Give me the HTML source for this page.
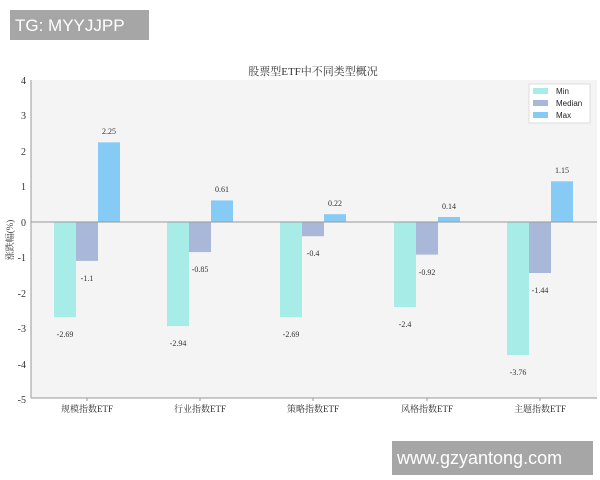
<!DOCTYPE html>
<html><head><meta charset="utf-8"><style>
body{margin:0;background:#fff;}
svg{display:block;}
</style></head><body>
<svg width="600" height="480" xmlns="http://www.w3.org/2000/svg" font-family="'Liberation Serif','Noto Serif CJK SC',serif">
<rect x="31" y="80" width="566" height="318" fill="#f4f4f4"/>
<text x="313" y="75" font-size="11" text-anchor="middle" fill="#333">股票型ETF中不同类型概况</text>
<g>
<rect x="54" y="222" width="22" height="95.2" fill="#a8ece8"/>
<rect x="76" y="222" width="22" height="38.9" fill="#a9b8d8"/>
<rect x="98" y="142.35" width="22" height="79.65" fill="#85cbf5"/>
<rect x="167" y="222" width="22" height="104.1" fill="#a8ece8"/>
<rect x="189" y="222" width="22" height="30.1" fill="#a9b8d8"/>
<rect x="211" y="200.4" width="22" height="21.6" fill="#85cbf5"/>
<rect x="280" y="222" width="22" height="95.2" fill="#a8ece8"/>
<rect x="302" y="222" width="22" height="14.2" fill="#a9b8d8"/>
<rect x="324" y="214.2" width="22" height="7.8" fill="#85cbf5"/>
<rect x="394" y="222" width="22" height="85" fill="#a8ece8"/>
<rect x="416" y="222" width="22" height="32.6" fill="#a9b8d8"/>
<rect x="438" y="217" width="22" height="5" fill="#85cbf5"/>
<rect x="507" y="222" width="22" height="133.1" fill="#a8ece8"/>
<rect x="529" y="222" width="22" height="51" fill="#a9b8d8"/>
<rect x="551" y="181.3" width="22" height="40.7" fill="#85cbf5"/>
</g>
<g font-size="8" fill="#333" text-anchor="middle">
<text x="65" y="337">-2.69</text><text x="87" y="281">-1.1</text><text x="109" y="134">2.25</text>
<text x="178" y="346">-2.94</text><text x="200" y="272">-0.85</text><text x="222" y="192">0.61</text>
<text x="291" y="337">-2.69</text><text x="313" y="256">-0.4</text><text x="335" y="206">0.22</text>
<text x="405" y="327">-2.4</text><text x="427" y="275">-0.92</text><text x="449" y="209">0.14</text>
<text x="518" y="375">-3.76</text><text x="540" y="293">-1.44</text><text x="562" y="173">1.15</text>
</g>
<line x1="31" y1="222" x2="597" y2="222" stroke="#999" stroke-width="1"/>
<line x1="31" y1="80" x2="31" y2="398" stroke="#999" stroke-width="1"/>
<line x1="31" y1="398" x2="597" y2="398" stroke="#999" stroke-width="1"/>
<g stroke="#999">
<line x1="87" y1="398" x2="87" y2="401"/><line x1="200" y1="398" x2="200" y2="401"/><line x1="313" y1="398" x2="313" y2="401"/><line x1="427" y1="398" x2="427" y2="401"/><line x1="540" y1="398" x2="540" y2="401"/>
</g>
<g font-size="9" fill="#333" text-anchor="middle">
<text x="87" y="412">规模指数ETF</text><text x="200" y="412">行业指数ETF</text><text x="313" y="412">策略指数ETF</text><text x="427" y="412">风格指数ETF</text><text x="540" y="412">主题指数ETF</text>
</g>
<g font-size="10" fill="#333" text-anchor="end">
<text x="26" y="84">4</text><text x="26" y="119">3</text><text x="26" y="155">2</text><text x="26" y="190">1</text><text x="26" y="226">0</text><text x="26" y="261">-1</text><text x="26" y="297">-2</text><text x="26" y="332">-3</text><text x="26" y="368">-4</text><text x="26" y="403">-5</text>
</g>
<text transform="translate(13,240) rotate(-90)" font-size="9" text-anchor="middle" fill="#333">涨跌幅(%)</text>
<rect x="529" y="84" width="61" height="39" fill="#fff" stroke="#ddd"/>
<g font-family="'Liberation Sans',sans-serif" font-size="8" fill="#222">
<rect x="533" y="88" width="15" height="6" fill="#a8ece8"/><text x="556" y="94">Min</text>
<rect x="533" y="100" width="15" height="6" fill="#a9b8d8"/><text x="556" y="106">Median</text>
<rect x="533" y="112" width="15" height="6" fill="#85cbf5"/><text x="556" y="118">Max</text>
</g>
<rect x="10" y="10" width="139" height="30" fill="#a6a6a6"/>
<text x="15" y="31" font-family="'Liberation Sans',sans-serif" font-size="17" fill="#fff">TG: MYYJJPP</text>
<rect x="392" y="441" width="201" height="34" fill="#a6a6a6"/>
<text x="397" y="464" font-family="'Liberation Sans',sans-serif" font-size="18" fill="#fff">www.gzyantong.com</text>
</svg>
</body></html>
